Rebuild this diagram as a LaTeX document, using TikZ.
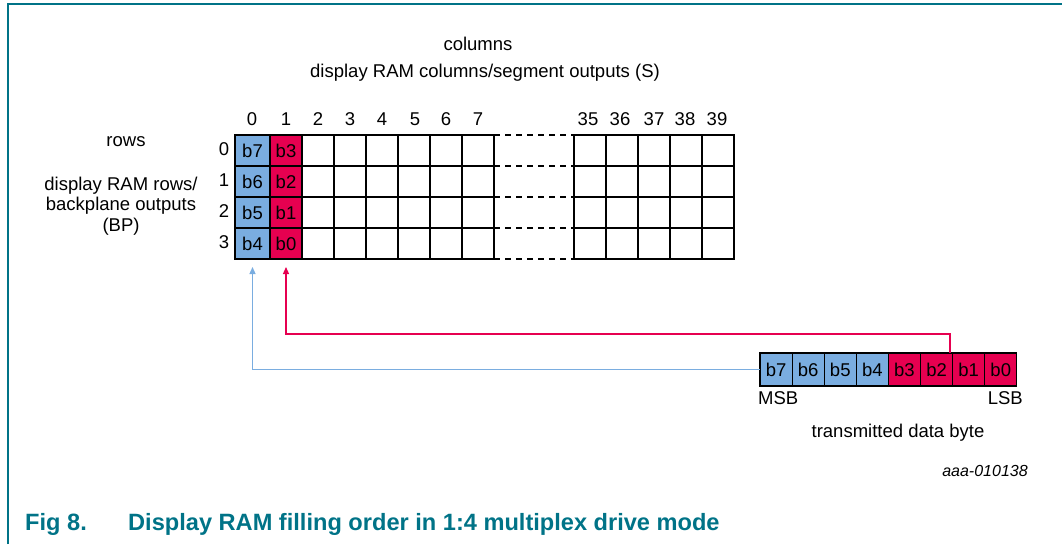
\documentclass[tikz,border=0pt]{standalone}
\usepackage{fontspec}
\setmainfont{Liberation Sans}
\usepackage{tikz}
\usetikzlibrary{positioning, arrows.meta, calc}
\definecolor{ramblue}{RGB}{122,173,224}
\definecolor{ramred}{RGB}{230,0,80}
\definecolor{figteal}{RGB}{0,115,135}

\begin{document}
\begin{tikzpicture}[
    x=1pt, y=-1pt,
    every node/.style={inner sep=0pt, font=\fontsize{18.5}{20.5}\selectfont},
    lbl/.style={text height=13pt, text depth=3.5pt},
    gridline/.style={line width=1.2pt},
    cell/.style={draw, line width=1.2pt, outer sep=0pt, minimum width=32pt, minimum height=31pt},
    hibit/.style={cell, fill=ramblue},
    lobit/.style={cell, fill=ramred},
    bytebit/.style={cell, minimum width=32.1pt, minimum height=33pt},
    bluewire/.style={draw=ramblue, line width=1.2pt, -{Triangle[width=6pt,length=7pt]}},
    redwire/.style={draw=ramred, line width=1.2pt, -{Triangle[width=6pt,length=7pt]}},
    captiontext/.style={font=\fontsize{23.6}{26}\selectfont\bfseries, text=figteal}
]
    \useasboundingbox (0,0) rectangle (1062,544);
    % Frame
    \draw[figteal, line width=2pt] (8,544) -- (8,4) -- (1062,4);

    % Headings
    \node[lbl] (colhead) at (478,46) {columns};
    \node[lbl] (colname) at (485,73) {display RAM columns/segment outputs (S)};
    \node[lbl] (rowhead) at (126,142) {rows};
    \node[align=center] (rowname) at (121,206)
        {display RAM rows/\\backplane outputs\\(BP)};

    % Columns 0 and 1 of the RAM, filled from the byte
    \node[hibit, minimum width=35pt, anchor=north west] (r0c0) at (235,135) {b7};
    \node[hibit, minimum width=35pt, below=0pt of r0c0] (r1c0) {b6};
    \node[hibit, minimum width=35pt, below=0pt of r1c0] (r2c0) {b5};
    \node[hibit, minimum width=35pt, below=0pt of r2c0] (r3c0) {b4};
    \node[lobit, right=0pt of r0c0] (r0c1) {b3};
    \node[lobit, right=0pt of r1c0] (r1c1) {b2};
    \node[lobit, right=0pt of r2c0] (r2c1) {b1};
    \node[lobit, right=0pt of r3c0] (r3c1) {b0};

    % Empty columns 2 to 7 and 35 to 39
    \draw[gridline] (302,135) rectangle (494,259);
    \draw[gridline] (574,135) rectangle (734,259);
    \foreach \x in {334,366,...,462}
        \draw[gridline] (\x,135) -- (\x,259);
    \foreach \x in {606,638,...,702}
        \draw[gridline] (\x,135) -- (\x,259);
    \foreach \y in {166,197,228} {
        \draw[gridline] (302,\y) -- (494,\y);
        \draw[gridline] (574,\y) -- (734,\y);
    }
    \foreach \y in {135,166,197,228,259}
        \draw[gridline, dash pattern=on 6pt off 5pt] (494,\y) -- (574,\y);

    % Column and row numbers
    \foreach \c/\x in {0/252,1/286,2/318,3/350,4/382,5/415,6/446,7/478,35/588,36/620,37/654,38/685,39/717}
        \node[lbl] (col\c) at (\x,121) {\c};
    \foreach \r in {0,1,2,3}
        \node[lbl] (row\r) at (224,{150.5+31*\r}) {\r};

    % Transmitted byte
    \node[bytebit, fill=ramblue, anchor=north west] (d7) at (760,353) {b7};
    \node[bytebit, fill=ramblue, right=0pt of d7] (d6) {b6};
    \node[bytebit, fill=ramblue, right=0pt of d6] (d5) {b5};
    \node[bytebit, fill=ramblue, right=0pt of d5] (d4) {b4};
    \node[bytebit, fill=ramred, right=0pt of d4] (d3) {b3};
    \node[bytebit, fill=ramred, right=0pt of d3] (d2) {b2};
    \node[bytebit, fill=ramred, right=0pt of d2] (d1) {b1};
    \node[bytebit, fill=ramred, right=0pt of d1] (d0) {b0};
    \node[lbl, anchor=west] (msb) at (758,400) {MSB};
    \node[lbl, anchor=east] (lsb) at (1023,400) {LSB};
    \node[lbl] (bytename) at (898,433) {transmitted data byte};
    \node[lbl, font=\fontsize{16}{18}\selectfont\itshape] (figcode) at (985,472) {aaa-010138};

    % Filling order
    \coordinate (redtap) at (950,353);
    \coordinate (redturn) at (950,334);
    \draw[redwire, shorten >=8pt] (redtap) -- (redturn) -| (r3c1.south);
    \draw[bluewire, shorten >=8pt] (d7.west) -| (r3c0.south);

    % Caption
    \node[captiontext, anchor=base west] (fignum) at (25,530) {Fig 8.};
    \node[captiontext, anchor=base west] (figtitle) at (128,530) {Display RAM filling order in 1:4 multiplex drive mode};
\end{tikzpicture}
\end{document}
